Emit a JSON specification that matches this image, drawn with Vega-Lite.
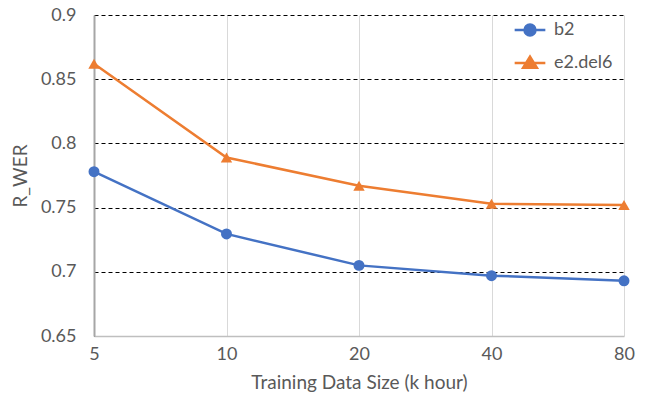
{
  "$schema": "https://vega.github.io/schema/vega-lite/v6.json",
  "width": 530,
  "height": 321,
  "autosize": {"type": "none"},
  "padding": {"left": 94, "top": 15, "right": 29, "bottom": 68},
  "background": "white",
  "config": {
    "view": {"stroke": null},
    "font": "Lato",
    "axis": {"labelFont": "Lato", "titleFont": "Lato", "labelColor": "#595959", "titleColor": "#595959", "labelFontSize": 18, "titleFontSize": 19, "titleFontWeight": "normal"}
  },
  "data": {
    "values": [
      {"size": "5", "series": "b2", "value": 0.778},
      {"size": "10", "series": "b2", "value": 0.7295},
      {"size": "20", "series": "b2", "value": 0.705},
      {"size": "40", "series": "b2", "value": 0.697},
      {"size": "80", "series": "b2", "value": 0.693},
      {"size": "5", "series": "e2.del6", "value": 0.862},
      {"size": "10", "series": "e2.del6", "value": 0.789},
      {"size": "20", "series": "e2.del6", "value": 0.767},
      {"size": "40", "series": "e2.del6", "value": 0.753},
      {"size": "80", "series": "e2.del6", "value": 0.752}
    ]
  },
  "encoding": {
    "x": {
      "field": "size", "type": "ordinal", "sort": ["5", "10", "20", "40", "80"],
      "scale": {"type": "point", "padding": 0},
      "axis": {"title": "Training Data Size (k hour)", "labelAngle": 0, "labelPadding": 9, "titlePadding": 10, "ticks": false, "domainColor": "#BFBFBF", "domainWidth": 1.5, "grid": true, "gridColor": "#D9D9D9", "gridWidth": 1}
    },
    "y": {
      "field": "value", "type": "quantitative",
      "scale": {"domain": [0.65, 0.9], "nice": false, "zero": false},
      "axis": {"title": "R_WER", "values": [0.65, 0.7, 0.75, 0.8, 0.85, 0.9], "format": "~g", "ticks": false, "labelPadding": 18, "titlePadding": 10, "domainColor": "#A6A6A6", "domainWidth": 2, "grid": true, "gridColor": "#000000", "gridDash": [4, 3], "gridWidth": 1}
    },
    "color": {
      "field": "series", "type": "nominal",
      "scale": {"domain": ["b2", "e2.del6"], "range": ["#4472C4", "#ED7D31"]},
      "legend": {"title": null, "orient": "none", "legendX": 427, "legendY": 6, "labelFontSize": 18, "labelColor": "#595959", "labelFont": "Lato", "symbolSize": 30, "rowPadding": 10, "labelOffset": 15, "symbolStrokeWidth": 2.5, "symbolOpacity": 1,
        "encode": {"symbols": {"update": {
          "shape": {"signal": "datum.value === 'b2' ? 'M-5.6,0H5.6M-2,0A2,2 0 1,1 2,0A2,2 0 1,1 -2,0Z' : 'M-5.6,0H5.6M0,-2.3L2.5,1.7L-2.5,1.7Z'"},
          "strokeWidth": {"value": 2.5}
        }}}}
    }
  },
  "layer": [
    {"mark": {"type": "line", "strokeWidth": 2.5}},
    {
      "transform": [{"filter": "datum.series === 'b2'"}],
      "mark": {"type": "point", "filled": true, "size": 120, "opacity": 1, "shape": "circle"}
    },
    {
      "transform": [{"filter": "datum.series === 'e2.del6'"}],
      "mark": {"type": "point", "filled": true, "size": 130, "opacity": 1, "shape": "triangle-up"}
    }
  ]
}
